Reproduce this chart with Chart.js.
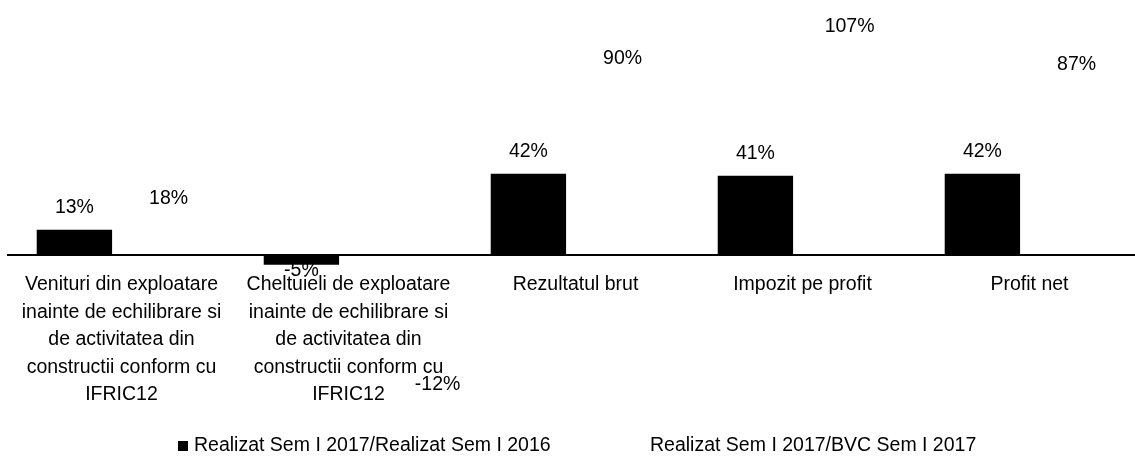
<!DOCTYPE html>
<html>
<head>
<meta charset="utf-8">
<script src="https://cdn.jsdelivr.net/npm/chart.js@4/dist/chart.umd.min.js"></script>
<style>
  html, body { margin: 0; padding: 0; background: #fff; overflow: hidden; }
  #wrap { width: 1145px; height: 463px; }
</style>
</head>
<body>
<div id="wrap"><canvas id="chart"></canvas></div>
<script>
// categories (multi-line tick labels)
var categories = [
  ["Venituri din exploatare", "inainte de echilibrare si", "de activitatea din", "constructii conform cu", "IFRIC12"],
  ["Cheltuieli de exploatare", "inainte de echilibrare si", "de activitatea din", "constructii conform cu", "IFRIC12"],
  "Rezultatul brut",
  "Impozit pe profit",
  "Profit net"
];
var seriesNames = ["Realizat Sem I 2017/Realizat Sem I 2016", "Realizat Sem I 2017/BVC Sem I 2017"];
var vsPrevYear = [13, -5, 42, 41, 42];
var vsBudget = [18, -12, 90, 107, 87];

var FONT = "'Liberation Sans', Arial, sans-serif";

// percent labels above / below each bar
var valueLabels = {
  id: 'valueLabels',
  afterDatasetsDraw: function(chart, args, opts) {
    var ctx = chart.ctx;
    ctx.save();
    ctx.font = opts.size + "px " + FONT;
    ctx.fillStyle = "#000";
    ctx.textAlign = "center";
    ctx.textBaseline = "middle";
    chart.data.datasets.forEach(function(ds, di) {
      var meta = chart.getDatasetMeta(di);
      meta.data.forEach(function(el, i) {
        var v = ds.data[i];
        var x = el.x, y;
        if (v >= 0) y = el.y - opts.above;
        else y = el.y + opts.below;
        var s = opts.shift[di + ":" + i];
        if (s) { x += s[0]; y += s[1]; }
        ctx.fillText(v + "%", x, y);
      });
    });
    ctx.restore();
  }
};

// legend drawn by hand so the two entries can sit far apart
var wideLegend = {
  id: 'wideLegend',
  afterDraw: function(chart, args, opts) {
    var ctx = chart.ctx;
    ctx.save();
    ctx.font = opts.size + "px " + FONT;
    ctx.textBaseline = "middle";
    ctx.textAlign = "left";
    chart.data.datasets.forEach(function(ds, di) {
      var x = opts.x[di];
      ctx.fillStyle = ds.backgroundColor;
      ctx.fillRect(x, opts.y - 5, 10, 10);
      ctx.fillStyle = "#000";
      ctx.fillText(ds.label, x + 16, opts.y);
    });
    ctx.restore();
  }
};

new Chart(document.getElementById("chart"), {
  type: "bar",
  data: {
    labels: categories,
    datasets: [
      { label: seriesNames[0], data: vsPrevYear, backgroundColor: "#000000", clip: false },
      { label: seriesNames[1], data: vsBudget, backgroundColor: "rgba(255,255,255,0)", clip: false }
    ]
  },
  options: {
    responsive: true,
    maintainAspectRatio: false,
    animation: false,
    layout: { padding: { left: 8, right: 2, top: 23, bottom: 0 } },
    datasets: { bar: { barPercentage: 0.8, categoryPercentage: 0.83 } },
    scales: {
      x: {
        grid: { display: false },
        border: { display: true, color: "#000", width: 2 },
        ticks: {
          color: "#000",
          padding: 8,
          autoSkip: false,
          maxRotation: 0,
          font: { family: FONT, size: 19.5, lineHeight: 1.41 }
        },
        afterFit: function(scale) { scale.height = 208; }
      },
      y: { display: false, min: 0, max: 120 }
    },
    plugins: {
      legend: { display: false },
      tooltip: { enabled: false },
      valueLabels: { size: 19.5, above: 22, below: 6, shift: { "1:1": [42, 100] } },
      wideLegend: { size: 19.5, y: 446, x: [178, 634] }
    }
  },
  plugins: [valueLabels, wideLegend]
});
</script>
</body>
</html>
